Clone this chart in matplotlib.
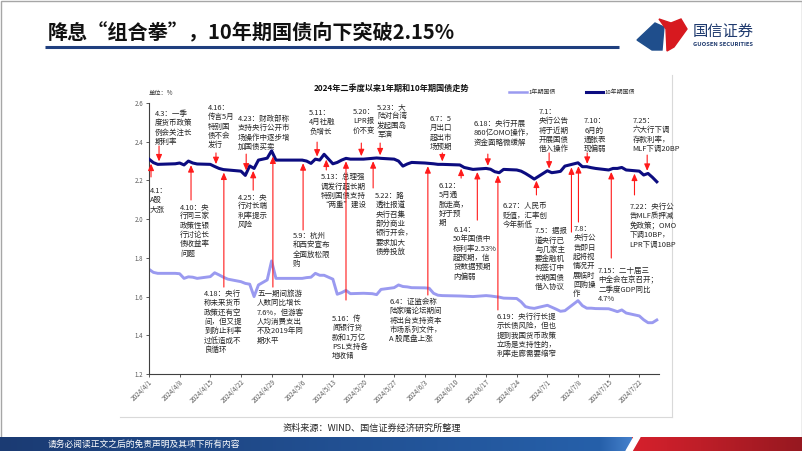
import numpy as np
import pandas as pd
import matplotlib
matplotlib.use("Agg")
import matplotlib.pyplot as plt
import matplotlib.dates as mdates
from matplotlib.patches import Rectangle, Polygon
from matplotlib.ticker import FuncFormatter

plt.rcParams['font.family'] = ['Noto Sans CJK SC', 'DejaVu Sans']

# ---- data ----
trade_days = ["4/1", "4/2", "4/3", "4/7", "4/8", "4/9", "4/10", "4/11", "4/12",
              "4/15", "4/16", "4/17", "4/18", "4/19",
              "4/22", "4/23", "4/24", "4/25", "4/26",
              "4/28", "4/29", "4/30",
              "5/6", "5/7", "5/8", "5/9", "5/10", "5/11",
              "5/13", "5/14", "5/15", "5/16", "5/17",
              "5/20", "5/21", "5/22", "5/23", "5/24",
              "5/27", "5/28", "5/29", "5/30", "5/31",
              "6/3", "6/4", "6/5", "6/6", "6/7",
              "6/11", "6/12", "6/13", "6/14",
              "6/17", "6/18", "6/19", "6/20", "6/21",
              "6/24", "6/25", "6/26", "6/27", "6/28",
              "7/1", "7/2", "7/3", "7/4", "7/5",
              "7/8", "7/9", "7/10", "7/11", "7/12",
              "7/15", "7/16", "7/17", "7/18", "7/19",
              "7/22", "7/23", "7/24", "7/25", "7/26"]

y10 = [2.310, 2.292, 2.283, 2.286, 2.290, 2.280, 2.300, 2.290, 2.285,
       2.283, 2.272, 2.262, 2.256, 2.254,
       2.248, 2.226, 2.275, 2.262, 2.305,
       2.315, 2.353, 2.305,
       2.305, 2.300, 2.288, 2.310, 2.305, 2.335,
       2.286, 2.293, 2.305, 2.314, 2.310,
       2.310, 2.312, 2.314, 2.316, 2.314,
       2.310, 2.300, 2.274, 2.285, 2.293,
       2.290, 2.288, 2.286, 2.283, 2.283,
       2.280, 2.267, 2.262, 2.257,
       2.262, 2.258, 2.245, 2.240, 2.257,
       2.254, 2.248, 2.236, 2.222, 2.207,
       2.250, 2.240, 2.243, 2.247, 2.274,
       2.291, 2.271, 2.271, 2.266, 2.262,
       2.254, 2.262, 2.262, 2.267, 2.254,
       2.248, 2.228, 2.236, 2.216, 2.193]

y1 = [1.741, 1.725, 1.720, 1.720, 1.718, 1.694, 1.702, 1.700, 1.694,
      1.703, 1.723, 1.712, 1.700, 1.690,
      1.677, 1.668, 1.664, 1.600, 1.660,
      1.686, 1.784, 1.694,
      1.694, 1.698, 1.700, 1.720, 1.710, 1.710,
      1.690, 1.612, 1.620, 1.632, 1.615,
      1.617, 1.616, 1.615, 1.610, 1.637,
      1.646, 1.660, 1.652, 1.650, 1.646,
      1.645, 1.643, 1.617, 1.607, 1.605,
      1.603, 1.602, 1.601, 1.600,
      1.605, 1.603, 1.600, 1.597, 1.592,
      1.590, 1.573, 1.548, 1.542, 1.539,
      1.555, 1.545, 1.535, 1.524, 1.527,
      1.579, 1.553, 1.540, 1.540, 1.538,
      1.537, 1.530, 1.522, 1.531, 1.515,
      1.500, 1.480, 1.465, 1.465, 1.479]

yticks = [1.2, 1.4, 1.6, 1.8, 2.0, 2.2, 2.4, 2.6]

# events above the 10Y line (arrow points down)
above_text = ["4.3：一季\n度货币政策\n例会关注长\n期利率",
              "4.16：\n传言5月\n特别国\n债不会\n发行",
              "4.23：财政部称\n支持央行公开市\n场操作中逐步增\n加国债买卖",
              "5.11：\n4月社融\n负增长",
              "5.20：\nLPR报\n价不变",
              "5.23：大\n陆对台湾\n发起围岛\n军演",
              "6.7：5\n月出口\n超出市\n场预期",
              "6.18：央行开展\n860亿OMO操作，\n资金面略微缓解",
              "7.1：\n央行公告\n将于近期\n开展国债\n借入操作",
              "7.10：\n6月的\n通胀表\n现偏弱",
              "7.25：\n六大行下调\n存款利率，\nMLF下调20BP"]
# events below the 10Y line (arrow points up)
below_text = ["4.1：\nA股\n大涨",
              "4.10：央\n行同三家\n政策性银\n行讨论长\n债收益率\n问题",
              "4.18：央行\n称未来货币\n政策还有空\n间，但又提\n到防止利率\n过低造成不\n良循环",
              "4.25：央\n行对长端\n利率提示\n风险",
              "五一期间旅游\n人数同比增长\n7.6%，但游客\n人均消费支出\n不及2019年同\n期水平",
              "5.9：杭州\n和西安宣布\n全面放松限\n购",
              "5.13：总理强\n调发行超长期\n特别国债支持\n“两重”建设",
              "5.16：传\n闻银行贷\n款和1万亿\nPSL支持各\n地收储",
              "5.22：路\n透社报道\n央行召集\n部分商业\n银行开会，\n要求加大\n债券投放",
              "6.4：证监会称\n陆家嘴论坛期间\n将出台支持资本\n市场系列文件，\nA 股尾盘上涨",
              "6.12：\n5月通\n胀走高，\n好于预\n期",
              "6.14：\n50年国债中\n标利率2.53%\n超预期，信\n贷数据预期\n内偏弱",
              "6.19：央行行长提\n示长债风险，但也\n提到我国货币政策\n立场是支持性的，\n利率走廊需要缩窄",
              "6.27：人民币\n贬值，汇率创\n今年新低",
              "7.5：据报\n道央行已\n与几家主\n要金融机\n构签订中\n长期国债\n借入协议",
              "7.8：\n央行公\n告即日\n起将视\n情况开\n展临时\n回购操\n作",
              "7.15：二十届三\n中全会在京召开；\n二季度GDP同比\n4.7%",
              "7.22：央行公\n告MLF质押减\n免政策；OMO\n下调10BP，\nLPR下调10BP"]

# layout of the annotations (days after 4/1, value units)
above_arrow_x = [2.29, 15.3, 22.2, 38.4, 48.5, 52.8, 67.0, 77.4, 91.4, 100.1, 113.8]
above_tail = [2.378, 2.342, 2.336, 2.398, 2.393, 2.393, 2.342, 2.336, 2.342, 2.342, 2.331]
above_pos = [(1.37, 2.564), (13.5, 2.595), (20.3, 2.538), (36.6, 2.569), (46.6, 2.574),
             (52.1, 2.600), (64.2, 2.538), (74.1, 2.512), (89.1, 2.574), (99.4, 2.527),
             (110.4, 2.527)]
below_arrow_x = [0.46, 9.6, 17.1, 23.8, 28.3, 35.2, 40.5, 45.0, 51.2, 63.7, 71.3, 75.0,
                 79.7, 88.5, 96.5, 98.1, 105.6, 110.9]
below_tail = [2.218, 2.099, 1.649, 2.150, 1.649, 1.944, 2.254, 1.582, 2.161, 1.608, 2.212,
              1.995, 1.531, 2.125, 1.933, 1.985, 1.799, 2.125]
below_pos = [(0.23, 2.166), (7.1, 2.083), (12.6, 1.634), (20.3, 2.135), (24.7, 1.634),
             (32.9, 1.933), (39.3, 2.238), (41.8, 1.505), (51.7, 2.140), (54.9, 1.593),
             (66.1, 2.192), (69.5, 1.964), (79.5, 1.515), (80.7, 2.088), (88.2, 1.959),
             (96.9, 1.970), (102.6, 1.753), (109.7, 2.083)]

dates = pd.to_datetime(["2024/" + d for d in trade_days])
start = pd.Timestamp("2024-04-01")
day_off = np.array([(d - start).days for d in dates], dtype=float)
x0 = mdates.date2num(start)

W, H = 802, 451
fig = plt.figure(figsize=(W / 100, H / 100), dpi=100)

# background layer in pixel coords
bg = fig.add_axes([0, 0, 1, 1])
bg.set_xlim(0, W)
bg.set_ylim(H, 0)
bg.axis('off')
bg.add_patch(Rectangle((0.5, 0.5), W - 1, H - 1, fill=False, edgecolor='#a6a6a6', lw=1))

# header
bg.text(48, 33, "降息“组合拳”，10年期国债向下突破2.15%", fontsize=14.5, fontweight='bold',
        color='#111111', va='center', ha='left')
bg.plot([45, 619], [46.5, 46.5], color='#1f3f7f', lw=2.2, solid_capstyle='butt')
bg.add_patch(Polygon([(637, 40), (655, 23), (664, 27), (662, 50), (652, 50)],
                     closed=True, color='#1f4e8c'))
bg.add_patch(Polygon([(659, 19), (671, 23), (681, 19), (687, 29), (674, 47), (667, 51), (666, 29)],
                     closed=True, color='#d7191f'))
bg.text(693, 31, "国信证券", fontsize=11, color='#1f3a6e', va='center', ha='left')
bg.text(693, 44.5, "GUOSEN SECURITIES", fontsize=4.2, fontweight='bold', color='#1f3a6e',
        va='center', ha='left')

# chart panel frame
bg.plot([120, 672], [417, 417], color='#d9d9d9', lw=0.8)
bg.plot([672, 672], [75, 417], color='#d9d9d9', lw=0.8)

bg.text(391, 88, "2024年二季度以来1年期和10年期国债走势", fontsize=5.9, fontweight='bold',
        color='#111111', ha='center', va='center')
bg.text(149, 93, "单位：%", fontsize=4.5, color='#333333', ha='left', va='center')
bg.plot([509, 527], [92, 92], color='#9a9af0', lw=1.8)
bg.text(528, 92, "1年期国债", fontsize=4.3, color='#333333', ha='left', va='center')
bg.plot([586, 603], [92, 92], color='#0c0c80', lw=2.2)
bg.text(604, 92, "10年期国债", fontsize=4.3, color='#333333', ha='left', va='center')

bg.text(283, 428, "资料来源：WIND、国信证券经济研究所整理", fontsize=6.6, color='#262626',
        ha='left', va='center')

# footer band
cols = np.zeros((1, W, 3))
for i in range(W):
    if i < 600:
        t = i / 600
        c0, c1 = np.array([27, 59, 115]), np.array([38, 96, 170])
    elif i < 632:
        t = (i - 600) / 32
        c0, c1 = np.array([38, 96, 170]), np.array([70, 130, 205])
    elif i < 700:
        t = (i - 632) / 68
        c0, c1 = np.array([214, 32, 44]), np.array([190, 30, 40])
    else:
        t = (i - 700) / 102
        c0, c1 = np.array([190, 30, 40]), np.array([150, 24, 32])
    cols[0, i] = (c0 + (c1 - c0) * t) / 255
bg.imshow(cols, extent=[0, W, H, 437], aspect='auto', zorder=1)
bg.add_patch(Polygon([(626, H), (634, 437), (640, 437), (632, H)], closed=True,
                     color='white', zorder=2))
bg.set_xlim(0, W)
bg.set_ylim(H, 0)
bg.text(48, 444, "请务必阅读正文之后的免责声明及其项下所有内容", fontsize=6.3, color='white',
        ha='left', va='center', zorder=3)

# chart
ax = fig.add_axes([149 / W, 1 - 374 / H, (659 - 149) / W, (374 - 103) / H])
ax.set_facecolor('none')
ax.plot(dates, y1, color='#9a9af0', lw=2.1, solid_joinstyle='round', zorder=2)
ax.plot(dates, y10, color='#0c0c80', lw=2.2, solid_joinstyle='round', zorder=3)

ax.set_ylim(1.2, 2.6)
ax.set_yticks(yticks)
ax.yaxis.set_major_formatter(FuncFormatter(lambda v, p: f"{v:.1f}"))
ax.set_xlim(x0, x0 + 116.5)
ax.xaxis.set_major_locator(mdates.WeekdayLocator(byweekday=mdates.MO))
ax.xaxis.set_major_formatter(FuncFormatter(
    lambda v, p: "{0.year}/{0.month}/{0.day}".format(mdates.num2date(v))))
for s in ['top', 'right']:
    ax.spines[s].set_visible(False)
for s in ['left', 'bottom']:
    ax.spines[s].set_color('#404040')
    ax.spines[s].set_linewidth(0.8)
ax.tick_params(axis='both', length=2, width=0.6, color='#404040', labelcolor='#595959')
ax.tick_params(axis='y', labelsize=4.4, pad=2)
ax.tick_params(axis='x', labelsize=4.6, pad=1)
for lab in ax.get_xticklabels():
    lab.set_rotation(45)
    lab.set_ha('right')
    lab.set_va('top')
    lab.set_rotation_mode('anchor')

txt_kw = dict(fontsize=5.4, color='#262626', ha='left', va='top', linespacing=1.22, zorder=4)
arr_kw = dict(arrowstyle='-|>,head_length=0.8,head_width=0.35', color='#ff1a1a', lw=0.8,
              shrinkA=0, shrinkB=0, mutation_scale=5)

for txt, ax_x, tail, pos in zip(above_text, above_arrow_x, above_tail, above_pos):
    head = np.interp(ax_x, day_off, y10) + 0.015
    ax.annotate('', xy=(x0 + ax_x, head), xytext=(x0 + ax_x, tail), arrowprops=arr_kw, zorder=5)
    ax.text(x0 + pos[0], pos[1], txt, **txt_kw)

for txt, ax_x, tail, pos in zip(below_text, below_arrow_x, below_tail, below_pos):
    head = np.interp(ax_x, day_off, y10) - 0.015
    ax.annotate('', xy=(x0 + ax_x, head), xytext=(x0 + ax_x, tail), arrowprops=arr_kw, zorder=5)
    ax.text(x0 + pos[0], pos[1], txt, **txt_kw)

fig.savefig("out.png", dpi=100)
